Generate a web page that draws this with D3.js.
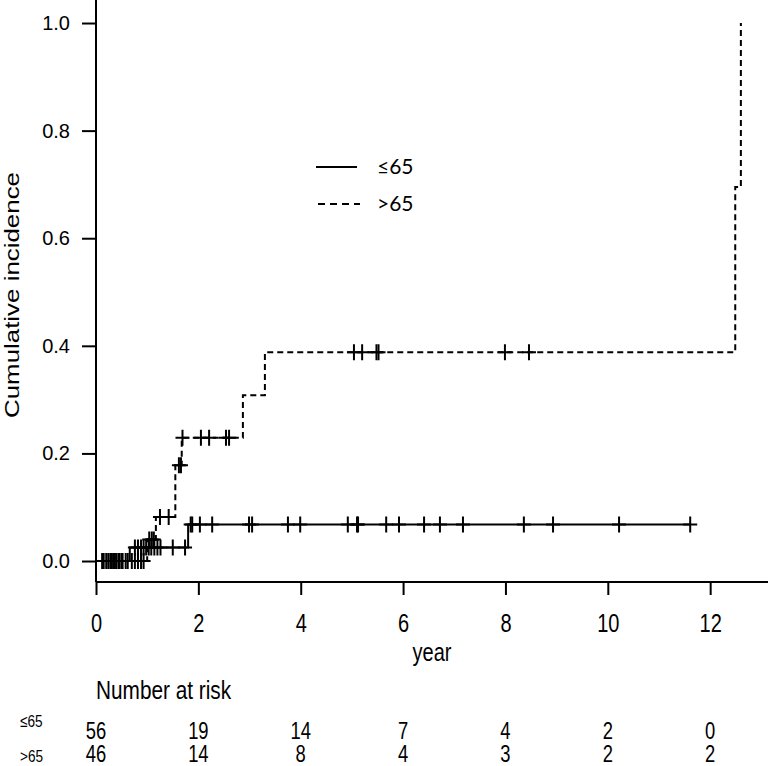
<!DOCTYPE html>
<html>
<head>
<meta charset="utf-8">
<script src="https://d3js.org/d3.v7.min.js"></script>
<style>
body { margin: 0; background: #fff; }
svg { display: block; }
</style>
<title>Cumulative incidence by age</title>
</head>
<body>
<script>
// step curves: event times and cumulative incidence after each step
var lowTimes   = [0, 0.66, 1.80, 11.61];
var lowValues  = [0, 0.025, 0.068, 0.068];
var highTimes  = [0, 1.00, 1.17, 1.55, 1.675, 2.87, 3.30, 12.49, 12.60];
var highValues = [0, 0.04, 0.082, 0.178, 0.229, 0.308, 0.388, 0.695, 1.0];

// censoring times
var lowCensor = [0.12, 0.2, 0.28, 0.34, 0.4, 0.46, 0.52, 0.58,
  0.76, 0.82, 0.88, 0.93, 0.98, 1.03, 1.08, 1.14, 1.2, 1.26, 1.5, 1.74,
  1.85, 1.88, 2.03, 2.27, 2.99, 3.05, 3.75, 3.99, 4.92, 5.10, 5.12, 5.67,
  5.92, 6.41, 6.72, 7.17, 8.36, 8.93, 10.22, 11.61];
var highCensor = [0.15, 0.24, 0.31, 0.37, 0.44, 0.5, 0.62, 0.7, 0.76, 0.82, 0.88, 0.93,
  1.04, 1.09, 1.13, 1.25, 1.42, 1.62, 1.66, 1.69, 2.05, 2.21, 2.54, 2.60,
  5.04, 5.20, 5.48, 5.52, 7.99, 8.46];

var riskYears = [0, 2, 4, 6, 8, 10, 12];
var riskLow   = [56, 19, 14, 7, 4, 2, 0];
var riskHigh  = [46, 14, 8, 4, 3, 2, 2];
var yTicks = [0, 0.2, 0.4, 0.6, 0.8, 1.0];

var width = 768, height = 766;
var narrow = 0.8;   // horizontal squeeze to mimic a condensed face

var x = d3.scaleLinear().domain([0, 13.13]).range([96, 768]);
var y = d3.scaleLinear().domain([-0.039, 1.04]).range([582, 1.5]);

var svg = d3.select("body").append("svg")
    .attr("width", width)
    .attr("height", height)
    .attr("font-family", "Liberation Sans, Arial, sans-serif");

svg.append("rect").attr("width", width).attr("height", height).attr("fill", "#fff");

function narrowText(sel, tx, ty) {
  return sel.attr("transform", "translate(" + tx + "," + ty + ") scale(" + narrow + ",1)");
}

// axes
var yAxis = svg.append("g")
    .attr("transform", "translate(96,0)")
    .call(d3.axisLeft(y).tickValues(yTicks).tickSize(14).tickSizeOuter(0)
      .tickFormat(d3.format(".1f")));
yAxis.select(".domain").attr("d", "M0,0V582");
yAxis.selectAll("line, path").attr("stroke", "#000").attr("stroke-width", 2);
yAxis.selectAll("text")
    .attr("font-family", null)
    .attr("font-size", 20)
    .attr("fill", "#000")
    .attr("x", -26);

var xAxis = svg.append("g")
    .attr("transform", "translate(0,582)")
    .call(d3.axisBottom(x).tickValues(riskYears).tickSize(13).tickSizeOuter(0));
xAxis.select(".domain").attr("d", "M96,0H768");
xAxis.selectAll("line, path").attr("stroke", "#000").attr("stroke-width", 2);
xAxis.selectAll("text")
    .attr("font-family", null)
    .attr("font-size", 25)
    .attr("fill", "#000")
    .attr("y", null)
    .attr("dy", null)
    .attr("transform", "translate(0,50) scale(" + narrow + ",1)");

narrowText(svg.append("text"), 432, 661)
    .attr("text-anchor", "middle")
    .attr("font-size", 25)
    .text("year");

svg.append("text")
    .attr("transform", "translate(19,295) rotate(-90)")
    .attr("text-anchor", "middle")
    .attr("font-size", 20)
    .attr("textLength", 246)
    .attr("lengthAdjust", "spacingAndGlyphs")
    .text("Cumulative incidence");

// curves
var line = d3.line()
    .x(function(d) { return x(d[0]); })
    .y(function(d) { return y(d[1]); })
    .curve(d3.curveStepAfter);

var lowData = d3.zip(lowTimes, lowValues);
var highData = d3.zip(highTimes, highValues);

svg.append("path")
    .datum(lowData)
    .attr("d", line)
    .attr("fill", "none")
    .attr("stroke", "#000")
    .attr("stroke-width", 2);

svg.append("path")
    .datum(highData)
    .attr("d", line)
    .attr("fill", "none")
    .attr("stroke", "#000")
    .attr("stroke-width", 2)
    .attr("stroke-dasharray", "6,4");

function valueAt(times, values, t) {
  var i = d3.bisectRight(times, t) - 1;
  return values[Math.max(i, 0)];
}

function drawCensor(times, values, censor) {
  svg.append("g").selectAll("path")
      .data(censor)
    .enter().append("path")
      .attr("d", function(t) {
        var cx = x(t), cy = y(valueAt(times, values, t));
        return "M" + (cx - 7) + "," + cy + "H" + (cx + 7) +
               "M" + cx + "," + (cy - 8) + "V" + (cy + 8);
      })
      .attr("stroke", "#000")
      .attr("stroke-width", 2);
}
drawCensor(lowTimes, lowValues, lowCensor);
drawCensor(highTimes, highValues, highCensor);

// legend
var legend = svg.append("g");
legend.append("line").attr("x1", 316).attr("x2", 357).attr("y1", 167).attr("y2", 167)
    .attr("stroke", "#000").attr("stroke-width", 2);
legend.append("line").attr("x1", 318).attr("x2", 360).attr("y1", 204).attr("y2", 204)
    .attr("stroke", "#000").attr("stroke-width", 2).attr("stroke-dasharray", "7,5");
legend.selectAll("text")
    .data(["\u226465", ">65"])
  .enter().append("text")
    .attr("x", 377)
    .attr("y", function(d, i) { return 174 + i * 37; })
    .attr("font-family", "Lato, sans-serif")
    .attr("font-size", 21)
    .text(function(d) { return d; });

// number at risk
narrowText(svg.append("text"), 96, 699)
    .attr("font-size", 26)
    .text("Number at risk");

var rows = [riskLow, riskHigh];
var rowLabels = ["\u226465", ">65"];
rows.forEach(function(row, r) {
  narrowText(svg.append("text"), 20, r === 0 ? 727 : 762)
      .attr("font-size", 17)
      .text(rowLabels[r]);
  svg.append("g").selectAll("text")
      .data(row)
    .enter().append("text")
      .attr("transform", function(d, i) {
        return "translate(" + x(riskYears[i]) + "," + (739 + r * 23) + ") scale(" + narrow + ",1)";
      })
      .attr("text-anchor", "middle")
      .attr("font-size", 23)
      .text(function(d) { return d; });
});
</script>
</body>
</html>
